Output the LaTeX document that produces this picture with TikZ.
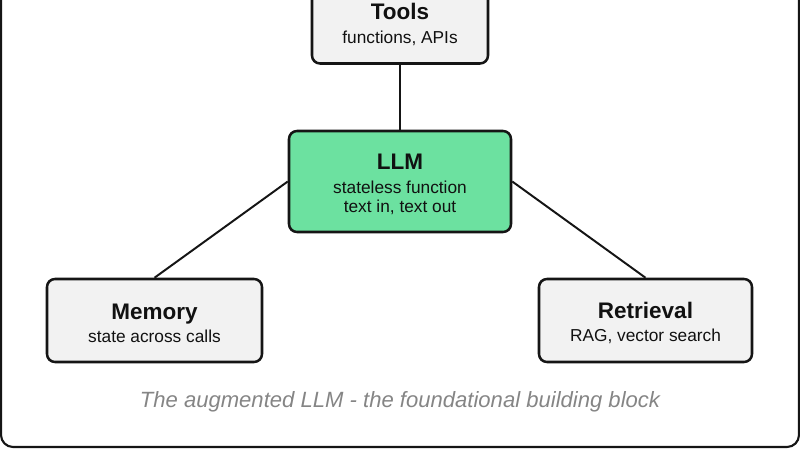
\documentclass[tikz,border=0pt]{standalone}
\usepackage{fontspec}
\setmainfont{Liberation Sans}
\usetikzlibrary{positioning}
\definecolor{aledge}{HTML}{151515}
\definecolor{alpanel}{HTML}{F2F2F2}
\definecolor{alcore}{HTML}{6CE1A0}
\definecolor{altext}{HTML}{111111}
\definecolor{alnote}{HTML}{858585}
\tikzstyle{albox}=[draw=aledge,fill=alpanel,text=altext,rounded corners=0.2cm,line width=1.8pt,
  minimum height=2.075cm,align=center,inner sep=2pt,font=\fontsize{12.3}{13.6}\selectfont]
\tikzstyle{allink}=[draw=aledge,line width=1.4pt]
\newcommand{\altitle}[1]{{\fontsize{16}{18}\selectfont\bfseries\rule{0pt}{15pt}#1}}

\begin{document}
\begin{tikzpicture}
    \useasboundingbox (0,0) rectangle (20,11.25);
    \draw[draw=aledge,line width=1.5pt,rounded corners=0.3cm] (0.025,0.075) rectangle (19.975,12);
    \node[albox,minimum width=4.4cm] (tools) at (10,10.7) {\altitle{Tools}\\[3pt]functions, APIs};
    \node[albox,fill=alcore,minimum width=5.55cm,minimum height=2.525cm] (llm) at (10,6.7125)
      {\altitle{LLM}\\[3pt]stateless function\\text in, text out};
    \node[albox,minimum width=5.375cm] (memory) at (3.8625,3.2375) {\altitle{Memory}\\[3pt]state across calls};
    \node[albox,minimum width=5.325cm] (retrieval) at (16.1375,3.2375) {\altitle{Retrieval}\\[3pt]RAG, vector search};
    \draw[allink] (tools) -- (llm);
    \draw[allink] (llm.west) -- (memory.north);
    \draw[allink] (llm.east) -- (retrieval.north);
    \node[text=alnote,font=\fontsize{15.7}{18}\selectfont\itshape] (caption) at (10,1.2)
      {The augmented LLM - the foundational building block};
  \end{tikzpicture}
\end{document}
